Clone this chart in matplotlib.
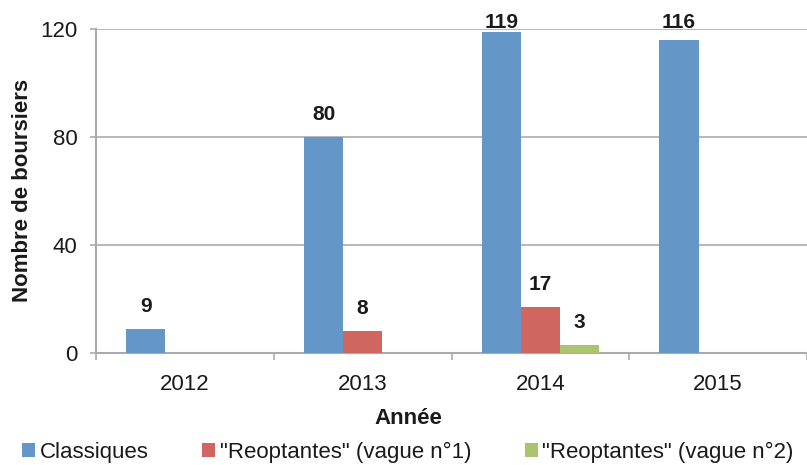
import matplotlib.pyplot as plt
import numpy as np

plt.rcParams['font.family'] = ['Liberation Sans', 'DejaVu Sans']

# données
annees = ['2012', '2013', '2014', '2015']
classiques = [9, 80, 119, 116]
reopt_v1 = [0, 8, 17, 0]
reopt_v2 = [0, 0, 3, 0]
series = ['Classiques', '"Reoptantes" (vague n°1)', '"Reoptantes" (vague n°2)']

couleurs = ['#6496C8', '#CF6760', '#AAC470']
grid_col = '#ABABAB'
txt_col = '#1a1a1a'

fig = plt.figure(figsize=(8.07, 4.65), dpi=100)
ax = fig.add_axes([0.119, 0.241, 0.881, 0.697])

x = np.arange(len(annees))
w = 0.22
handles = []
for i, (vals, c, lab) in enumerate(zip([classiques, reopt_v1, reopt_v2], couleurs, series)):
    pos = x + (i - 1) * w
    bars = ax.bar(pos, vals, width=w, color=c, label=lab, zorder=3)
    handles.append(bars)
    for p, v in zip(pos, vals):
        if v > 0:
            # étiquette au-dessus, bloquée en haut de la zone comme dans Excel
            ax.text(p, min(v + 4.8, 119), str(v), ha='center', va='bottom',
                    fontsize=15, fontweight='bold', color=txt_col, zorder=4, clip_on=False)

ax.set_xlim(-0.5, 3.5)
ax.set_ylim(0, 120)
ax.set_yticks([0, 40, 80, 120])
ax.yaxis.grid(True, color=grid_col, linewidth=1.2, zorder=0)
ax.set_axisbelow(True)

# séparateurs entre catégories
ax.set_xticks(np.arange(-0.5, 3.6, 1.0))
ax.set_xticklabels([])
ax.set_xticks(x, minor=True)
ax.set_xticklabels(annees, minor=True)
ax.tick_params(axis='x', which='major', length=5, color=grid_col, width=1.2)
ax.tick_params(axis='x', which='minor', length=0, pad=15, labelsize=16, labelcolor=txt_col)
ax.tick_params(axis='y', length=4.5, color=grid_col, width=1.2, labelsize=16,
               labelcolor=txt_col, pad=9)

for s in ['top', 'right']:
    ax.spines[s].set_visible(False)
for s in ['left', 'bottom']:
    ax.spines[s].set_color(grid_col)
    ax.spines[s].set_linewidth(1.5)

ax.set_xlabel('Année', fontsize=16, fontweight='bold', color=txt_col)
ax.xaxis.set_label_coords(0.44, -0.170)
ax.set_ylabel('Nombre de boursiers', fontsize=16, fontweight='bold', color=txt_col, labelpad=5)

fig.legend(handles=handles, labels=series, loc='center left',
           bbox_to_anchor=(22 / 807, 1 - 452 / 465), ncol=3, frameon=False, fontsize=16,
           handlelength=0.6, handleheight=0.6, handletextpad=0.2, columnspacing=2.4,
           borderpad=0, borderaxespad=0, labelcolor=txt_col)

fig.savefig('out.png', dpi=100)
